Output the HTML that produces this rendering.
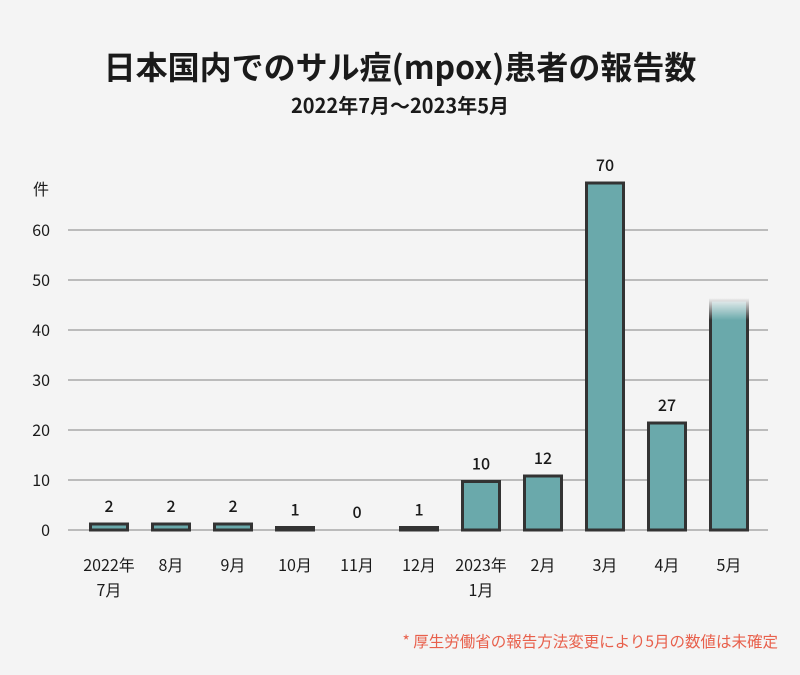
<!DOCTYPE html>
<html><head><meta charset="utf-8"><style>
body{margin:0;background:#f4f4f4;}
svg text{font-family:"Noto Sans CJK JP","Liberation Sans",sans-serif;fill:#1a1a1a;}
</style></head><body>
<svg width="800" height="670" viewBox="0 0 800 670">
<defs>
<linearGradient id="fade" x1="0" y1="0" x2="0" y2="1">
<stop offset="0" stop-color="#fff" stop-opacity="0"/>
<stop offset="1" stop-color="#fff" stop-opacity="1"/>
</linearGradient>
<mask id="fadeMask" maskUnits="userSpaceOnUse" x="0" y="0" width="800" height="670">
<rect x="0" y="0" width="800" height="298" fill="#000"/>
<rect x="0" y="298" width="800" height="22" fill="url(#fade)"/>
<rect x="0" y="320" width="800" height="350" fill="#fff"/>
</mask>
</defs>
<text x="400" y="79" text-anchor="middle" font-size="32" font-weight="bold">日本国内でのサル痘(mpox)患者の報告数</text>
<text x="400" y="113" text-anchor="middle" font-size="20" font-weight="bold">2022年7月～2023年5月</text>
<text x="33" y="195" font-size="16">件</text>
<g id="grid"></g>
<g id="bars"></g>
<text x="778" y="647" text-anchor="end" font-size="15.5" style="fill:#e8604c">* 厚生労働省の報告方法変更により5月の数値は未確定</text>
</svg>
<script>
const categories=[["2022年","7月"],["8月"],["9月"],["10月"],["11月"],["12月"],["2023年","1月"],["2月"],["3月"],["4月"],["5月"]];
const barHeights=[1.2,1.2,1.2,0.5,0,0.5,9.7,10.8,69.4,21.4,46];
const valueLabels=["2","2","2","1","0","1","10","12","70","27",""];
const yTicks=[0,10,20,30,40,50,60];
const ns="http://www.w3.org/2000/svg";
const y=v=>530-v*5;
const x=i=>109+i*62;
const grid=document.getElementById('grid'),bars=document.getElementById('bars');
function mk(tag,attrs,parent){const e=document.createElementNS(ns,tag);for(const k in attrs)e.setAttribute(k,attrs[k]);parent.appendChild(e);return e;}
yTicks.forEach(t=>{
 const l=mk('line',{x1:68,x2:768,y1:y(t),y2:y(t),stroke:'#999','stroke-width':1.3},grid);
 
 
 const tx=mk('text',{x:50,y:y(t)+6,'text-anchor':'end','font-size':16},grid);
 tx.textContent=t;
 
 
});
categories.forEach((c,i)=>{
 const h=barHeights[i];
 if(h>0){
  const r=mk('rect',{x:x(i)-18.5,y:y(h),width:37,height:h*5,fill:'#6aa9ab',stroke:'#333','stroke-width':3},bars);
  if(i===categories.length-1)r.setAttribute('mask','url(#fadeMask)');
  
  
 }
 if(valueLabels[i]!==""){
  const v=mk('text',{x:x(i),y:y(h)-12,'text-anchor':'middle','font-size':16,'font-weight':500},bars);
  v.textContent=valueLabels[i];
  
  
 }
 c.forEach((line,j)=>{
  const t=mk('text',{x:x(i),y:571+j*25,'text-anchor':'middle','font-size':16},bars);
  t.textContent=line;
  
  
 });
});
</script>
</body></html>
